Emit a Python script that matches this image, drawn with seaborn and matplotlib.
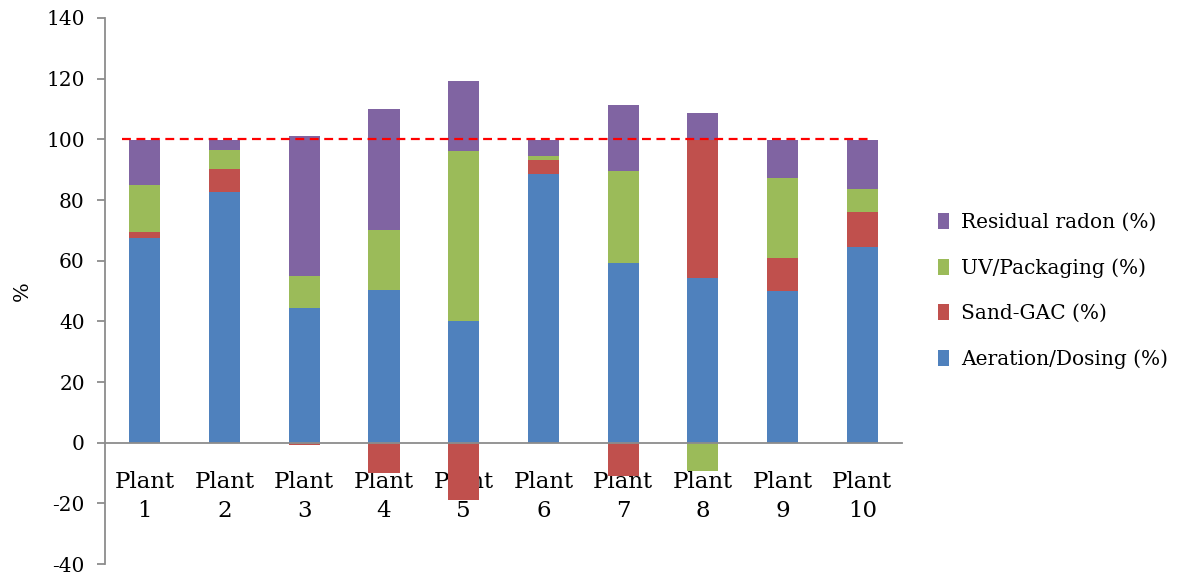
import numpy as np
import pandas as pd
import matplotlib.pyplot as plt
import seaborn as sns
from matplotlib.patches import Patch
from matplotlib.ticker import FixedLocator

plants = ['Plant\n1', 'Plant\n2', 'Plant\n3', 'Plant\n4', 'Plant\n5',
          'Plant\n6', 'Plant\n7', 'Plant\n8', 'Plant\n9', 'Plant\n10']
aeration = [67.6, 82.5, 44.4, 50.5, 40.2, 88.5, 59.2, 54.4, 50.0, 64.6]
sand_gac = [1.8, 7.7, -0.9, -10.0, -19.0, 4.7, -11.0, 45.3, 11.0, 11.3]
uv_pack = [15.5, 6.4, 10.6, 19.5, 56.0, 1.2, 30.4, -9.4, 26.2, 7.7]
residual = [15.0, 3.3, 46.1, 40.0, 23.0, 5.3, 21.6, 9.1, 12.5, 16.1]
series_names = ['Aeration/Dosing (%)', 'Sand-GAC (%)', 'UV/Packaging (%)', 'Residual radon (%)']
colors = ['#4F81BD', '#C0504D', '#9BBB59', '#8064A2']
target = 100

sns.set_style('white')
plt.rcParams['font.family'] = ['DejaVu Serif']
plt.rcParams['axes.unicode_minus'] = False
plt.rcParams['text.color'] = 'black'
plt.rcParams['xtick.labelcolor'] = 'black'
plt.rcParams['ytick.labelcolor'] = 'black'

fig = plt.figure(figsize=(12, 5.75), dpi=100)
ax = fig.add_axes([0.0875, 0.019, 0.6642, 0.9497])

series = [aeration, sand_gac, uv_pack, residual]
pos_base = np.zeros(len(plants))
neg_base = np.zeros(len(plants))
for vals, name, col in zip(series, series_names, colors):
    v = np.array(vals)
    bottoms = np.where(v >= 0, pos_base, neg_base)
    df = pd.DataFrame({'plant': plants, 'value': v})
    sns.barplot(data=df, x='plant', y='value', color=col, width=0.39,
                bottom=bottoms, linewidth=0, saturation=1, ax=ax, errorbar=None)
    pos_base = pos_base + np.where(v >= 0, v, 0)
    neg_base = neg_base + np.where(v < 0, v, 0)

# 100 % reference line
ax.plot([-0.29, len(plants) - 0.9], [target, target], color='#FF0000',
        linestyle=(0, (4, 2.5)), linewidth=1.6, zorder=5)

ax.set_xlim(-0.5, len(plants) - 0.5)
ax.set_ylim(-40, 140)
ax.set_yticks(np.arange(-40, 141, 20))
ax.set_xlabel('')
ax.set_ylabel('%', fontsize=15, color='black')
ax.yaxis.set_label_coords(-0.092, 0.5)

for s in ['top', 'right']:
    ax.spines[s].set_visible(False)
ax.spines['bottom'].set_position(('data', 0))
for s in ['left', 'bottom']:
    ax.spines[s].set_color('#8C8C8C')
    ax.spines[s].set_linewidth(1.3)

ax.xaxis.set_minor_locator(FixedLocator(np.arange(0.5, len(plants) - 0.5 + 1, 1)))
ax.tick_params(axis='x', which='major', length=0, pad=20, labelsize=16.5)
ax.tick_params(axis='x', which='minor', length=7, width=1.3, color='#8C8C8C', direction='out')
ax.tick_params(axis='y', which='major', left=True, length=5.5, width=1.3,
               color='#8C8C8C', direction='out', labelsize=14.5, pad=9)
for lab in ax.get_xticklabels():
    lab.set_linespacing(1.45)

handles = [Patch(facecolor=c, edgecolor='none') for c in colors][::-1]
ax.legend(handles, series_names[::-1], loc='center left', bbox_to_anchor=(1.035, 0.5),
          frameon=False, fontsize=14.5, handlelength=0.55, handleheight=0.85,
          handletextpad=0.6, labelspacing=1.3, borderaxespad=0)

fig.savefig('out.png', dpi=100)
